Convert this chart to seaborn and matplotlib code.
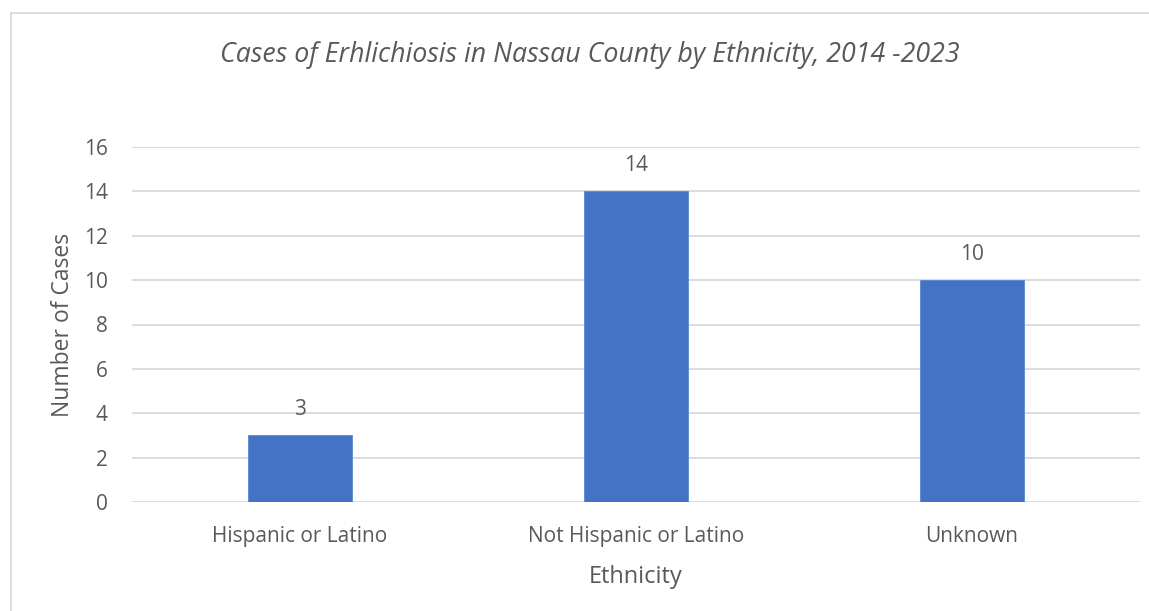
import matplotlib
matplotlib.use("Agg")
import matplotlib.pyplot as plt
import seaborn as sns
import pandas as pd
from matplotlib.patches import Rectangle

categories = ["Hispanic or Latino", "Not Hispanic or Latino", "Unknown"]
cases = [3, 14, 10]
yticks = [0, 2, 4, 6, 8, 10, 12, 14, 16]

df = pd.DataFrame({"Ethnicity": categories, "Cases": cases})

sns.set_theme(style="white")
plt.rcParams['font.family'] = ['Open Sans', 'DejaVu Sans']

TXT = "#595959"
fig = plt.figure(figsize=(11.49, 6.11), dpi=100)
ax = fig.add_axes([132/1149, (611-502)/611, (1140-132)/1149, (502-147)/611])

sns.barplot(data=df, x="Ethnicity", y="Cases", color="#4472C4", width=0.31,
            saturation=1, ax=ax, zorder=3)
for p in ax.patches:
    p.set_edgecolor("#5B86D0")
    p.set_linewidth(0.6)

ax.set_xlim(-0.5, 2.5)
ax.set_ylim(0, 16)
ax.set_yticks(yticks)
ax.yaxis.grid(True, color="#D9D9D9", linewidth=1.3, zorder=0)
ax.set_axisbelow(True)
for s in ax.spines.values():
    s.set_visible(False)
ax.tick_params(axis="both", length=0, labelsize=15, labelcolor=TXT)
ax.tick_params(axis="y", pad=17.5)
ax.tick_params(axis="x", pad=17)

for i, v in enumerate(cases):
    ax.annotate(str(v), (i, v), xytext=(0, 11), textcoords="offset points",
                ha="center", va="bottom", fontsize=15, color=TXT)

ax.set_xlabel("Ethnicity", fontsize=17, color=TXT, labelpad=13.5)
ax.set_ylabel("Number of Cases", fontsize=16.5, color=TXT, labelpad=6)

fig.text(590/1149, 1 - 55/611, "Cases of Erhlichiosis in Nassau County by Ethnicity, 2014 -2023",
         ha="center", va="center", fontsize=19.3, style="italic", color=TXT)

fig.patches.append(Rectangle((11/1149, -0.1), 1.2, (611-13)/611 + 0.1,
                             transform=fig.transFigure, fill=False,
                             edgecolor="#D9D9D9", linewidth=1.3))

fig.savefig("out.png", dpi=100)
